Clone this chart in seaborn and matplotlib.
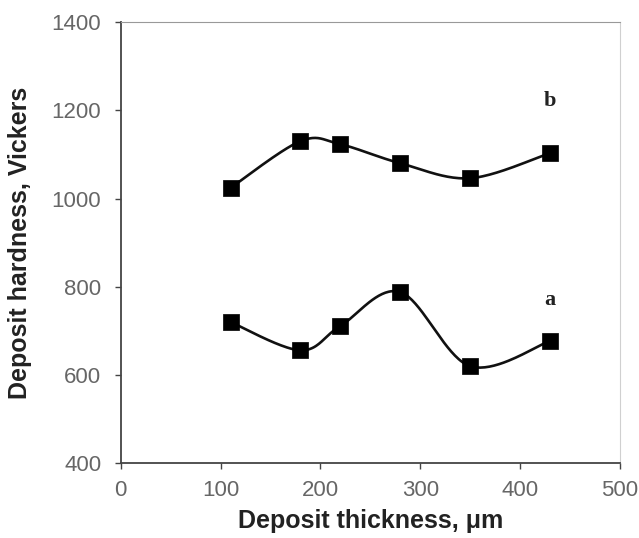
import numpy as np
import pandas as pd
import matplotlib
matplotlib.use("Agg")
import matplotlib.pyplot as plt
import seaborn as sns

# Data
thickness = [110, 180, 220, 280, 350, 430]
hardness_a = [720, 656, 711, 788, 620, 677]
hardness_b = [1024, 1130, 1123, 1080, 1046, 1103]
series_labels = ["a", "b"]
label_pos_a = (430, 770)
label_pos_b = (430, 1220)

x_ticks = [0, 100, 200, 300, 400, 500]
y_ticks = [400, 600, 800, 1000, 1200, 1400]


def smooth(xs, ys, n=40):
    """Excel-like smoothed line (Catmull-Rom Bezier)."""
    P = np.column_stack([xs, ys]).astype(float)
    out = []
    for i in range(len(P) - 1):
        p0 = P[i - 1] if i > 0 else P[i]
        p1, p2 = P[i], P[i + 1]
        p3 = P[i + 2] if i + 2 < len(P) else P[i + 1]
        c1 = p1 + (p2 - p0) / 6.0
        c2 = p2 - (p3 - p1) / 6.0
        t = np.linspace(0, 1, n)[:, None]
        seg = ((1 - t) ** 3) * p1 + 3 * ((1 - t) ** 2) * t * c1 + 3 * (1 - t) * t ** 2 * c2 + t ** 3 * p2
        out.append(seg if i == 0 else seg[1:])
    return np.vstack(out)


sns.set_style("white")
plt.rcParams['font.family'] = ['Liberation Sans', 'DejaVu Sans']

fig = plt.figure(figsize=(6.39, 5.38), dpi=100)
ax = fig.add_axes([0.189, 0.139, 0.781, 0.820])

for ys in (hardness_a, hardness_b):
    curve = smooth(thickness, ys)
    df_c = pd.DataFrame({"x": curve[:, 0], "y": curve[:, 1]})
    sns.lineplot(data=df_c, x="x", y="y", ax=ax, color="#111111", lw=1.9,
                 sort=False, estimator=None)
    df_p = pd.DataFrame({"x": thickness, "y": ys})
    sns.scatterplot(data=df_p, x="x", y="y", ax=ax, marker="s", s=120,
                    color="#000000", edgecolor="#000000", linewidth=0.5, zorder=5)

ax.text(*label_pos_a, series_labels[0], fontsize=16, fontweight="bold",
        family=["Liberation Serif"], ha="center", va="center", color="#222222")
ax.text(*label_pos_b, series_labels[1], fontsize=16, fontweight="bold",
        family=["Liberation Serif"], ha="center", va="center", color="#222222")

ax.set_xlim(0, 500)
ax.set_ylim(400, 1400)
ax.set_xticks(x_ticks)
ax.set_yticks(y_ticks)
ax.tick_params(axis="both", direction="out", length=4, width=1, labelsize=16,
               colors="#444444", labelcolor="#666666", left=True, bottom=True)
ax.tick_params(axis="y", pad=10)
ax.tick_params(axis="x", pad=8)
ax.set_xlabel("Deposit thickness, μm", fontsize=18, fontweight="bold", color="#222222", labelpad=6)
ax.set_ylabel("Deposit hardness, Vickers", fontsize=18, fontweight="bold", color="#222222", labelpad=14)

for s in ("left", "bottom"):
    ax.spines[s].set_color("#444444")
    ax.spines[s].set_linewidth(1.3)
ax.spines["top"].set_color("#999999")
ax.spines["right"].set_color("#d0d0d0")

fig.savefig("out.png", dpi=100)
